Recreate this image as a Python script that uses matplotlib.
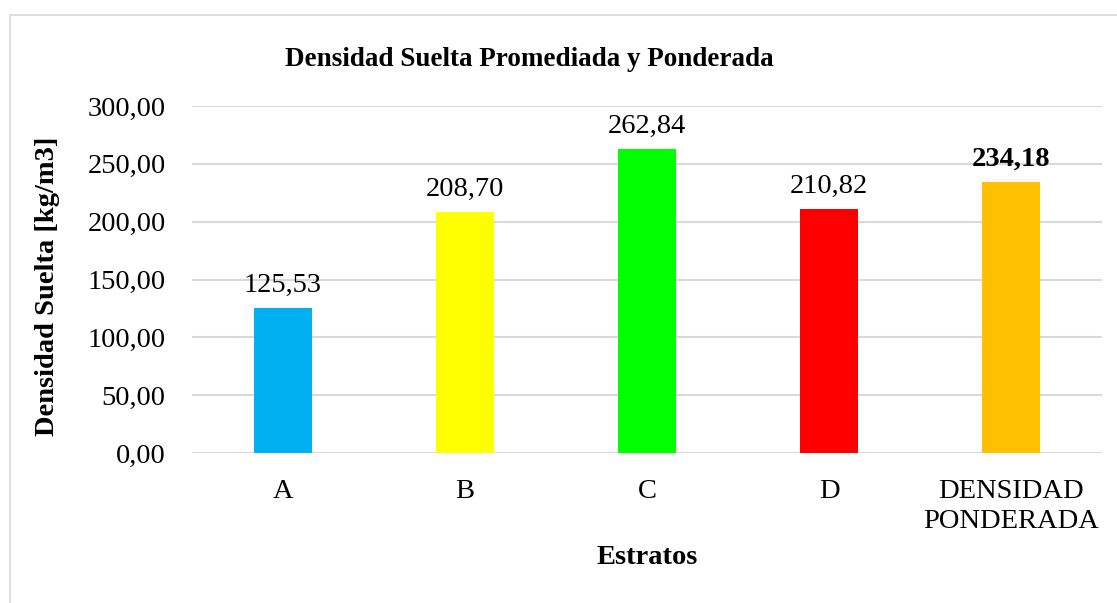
import matplotlib
matplotlib.use("Agg")
import matplotlib.pyplot as plt
from matplotlib.patches import Rectangle

categorias = ["A", "B", "C", "D", "DENSIDAD\nPONDERADA"]
densidades = [125.53, 208.70, 262.84, 210.82, 234.18]
colores = ["#00B0F0", "#FFFF00", "#00FF00", "#FF0000", "#FFC000"]
yticks = [0, 50, 100, 150, 200, 250, 300]

plt.rcParams["font.family"] = ["Liberation Serif", "DejaVu Serif"]
FS = 20.5


def coma(v):
    return f"{v:.2f}".replace(".", ",")


W, H = 1117, 603
fig = plt.figure(figsize=(W / 100, H / 100), dpi=100)
ax = fig.add_axes([192 / W, 1 - 453 / H, 910 / W, 347 / H])

# marco del grafico
fig.patches.append(Rectangle((10 / W, -0.1), 1.2, 1 - 15 / H + 0.1,
                             transform=fig.transFigure, fill=False,
                             edgecolor="#D9D9D9", linewidth=1.2))

x = range(len(categorias))
bars = ax.bar(x, densidades, width=0.32, color=colores, zorder=3)

for i, (b, v) in enumerate(zip(bars, densidades)):
    ax.text(b.get_x() + b.get_width() / 2, v + 14, coma(v),
            ha="center", va="baseline", fontsize=FS,
            fontweight="bold" if i == len(densidades) - 1 else "normal")

ax.set_xlim(-0.5, len(categorias) - 0.5)
ax.set_ylim(0, 300)
ax.set_yticks(yticks)
ax.set_yticklabels([coma(t) for t in yticks], fontsize=FS)
ax.set_xticks(list(x))
ax.set_xticklabels(categorias, fontsize=FS, linespacing=1.25)
ax.tick_params(axis="both", length=0, pad=19)
ax.grid(True, axis="y", color="#D9D9D9", linewidth=1.5, zorder=0)
for s in ax.spines.values():
    s.set_visible(False)

fig.text(48 / W, 1 - 286 / H, "Densidad Suelta [kg/m3]", rotation=90,
         ha="center", va="center", fontsize=FS, fontweight="bold")
fig.text(647 / W, 1 - 557 / H, "Estratos",
         ha="center", va="center", fontsize=FS, fontweight="bold")
fig.text(529 / W, 1 - 60 / H, "Densidad Suelta Promediada y Ponderada",
         ha="center", va="center", fontsize=19.5, fontweight="bold")

fig.savefig("out.png", dpi=100)
